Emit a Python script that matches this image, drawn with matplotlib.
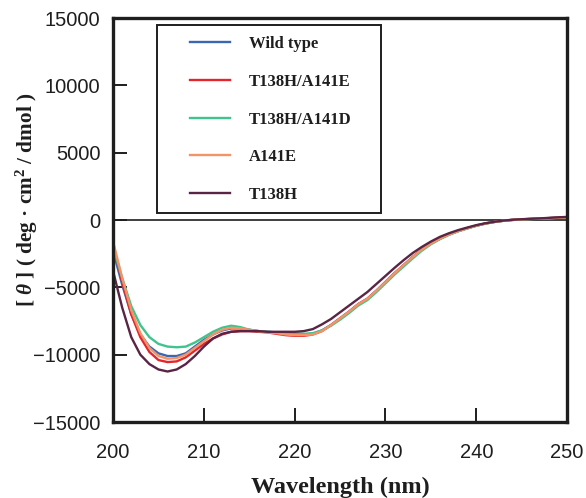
import matplotlib
matplotlib.use("Agg")
import matplotlib.pyplot as plt
import numpy as np
from matplotlib.patches import Rectangle

W = 5.86
H = 4.98
SIZE = (W, H)

BLUE = '#3a68b0'
RED = '#e4262c'
GREEN = '#3ec48c'
ORANGE = '#f39468'
PLUM = '#5a2444'
INK = '#1e1e1e'

wavelength = np.arange(200, 251)

# shared tail 224..250 nm
tail = [-7800, -7300, -6800, -6250, -5850, -5250, -4600, -3950, -3350, -2750,
        -2200, -1750, -1380, -1070, -820, -610, -420, -260, -140, -50,
        10, 50, 80, 110, 140, 170, 190]

wild_type = [-2300, -4800, -7000, -8500, -9400, -9900, -10100, -10100, -9900, -9400,
             -8900, -8500, -8200, -8050, -8050, -8150, -8250, -8300, -8350, -8400,
             -8450, -8500, -8450, -8200] + tail

t138h_a141e = [-1800, -4600, -7000, -8700, -9800, -10400, -10550, -10500, -10200, -9700,
               -9200, -8800, -8500, -8300, -8250, -8250, -8300, -8350, -8450, -8550,
               -8600, -8600, -8500, -8250] + tail

t138h_a141d = [-2000, -4300, -6400, -7800, -8700, -9200, -9400, -9450, -9400, -9100,
               -8700, -8300, -8000, -7850, -7950, -8150, -8250, -8300, -8350, -8400,
               -8400, -8450, -8400, -8200,
               -7850, -7400, -6900, -6350, -5950, -5350, -4700, -4050, -3450, -2850,
               -2280, -1800, -1420, -1100, -840, -630, -430, -270, -150, -60,
               0, 40, 70, 100, 130, 160, 180]

a141e = [-1600, -4300, -6700, -8400, -9500, -10100, -10300, -10250, -10000, -9500,
         -9000, -8500, -8150, -8000, -8050, -8150, -8250, -8350, -8400, -8500,
         -8550, -8550, -8500, -8250] + tail

t138h = [-3800, -6500, -8700, -10000, -10700, -11100, -11250, -11100, -10700, -10100,
         -9400, -8800, -8450, -8300, -8250, -8250, -8250, -8300, -8300, -8300,
         -8300, -8250, -8100, -7750,
         -7350, -6850, -6350, -5850, -5350, -4750, -4150, -3550, -2980, -2450,
         -2000, -1600, -1250, -980, -750, -560, -380, -240, -130, -40,
         20, 60, 90, 120, 160, 200, 230]

series = [
    ('Wild type', wild_type, BLUE),
    ('T138H/A141E', t138h_a141e, RED),
    ('T138H/A141D', t138h_a141d, GREEN),
    ('A141E', a141e, ORANGE),
    ('T138H', t138h, PLUM),
]

plt.rcParams['mathtext.fontset'] = 'custom'
plt.rcParams['mathtext.rm'] = 'Liberation Serif:bold'
plt.rcParams['mathtext.it'] = 'Liberation Serif:italic:bold'
plt.rcParams['mathtext.bf'] = 'Liberation Serif:bold'

fig = plt.figure(figsize=SIZE, dpi=100)
ax = fig.add_axes([0.193, 0.1526, 0.7747, 0.8112])

for label, vals, color in series:
    ax.plot(wavelength, vals, color=color, linewidth=1.7, label=label)

ax.axhline(0, color=INK, linewidth=1.2, zorder=1)

ax.set_xlim(200, 250)
ax.set_ylim(-15000, 15000)
ax.set_xticks(range(200, 251, 10))
ax.set_yticks(range(-15000, 15001, 5000))

for s in ax.spines.values():
    s.set_linewidth(2.4)
    s.set_color(INK)
ax.tick_params(direction='in', length=10, width=1.4, top=False, right=False,
               colors=INK, labelsize=14.5, labelfontfamily='Liberation Sans')
ax.tick_params(axis='y', pad=9)
ax.tick_params(axis='x', pad=15)

ax.set_xlabel('Wavelength (nm)', family='Liberation Serif', weight='bold',
              fontsize=17.5, color=INK, va='top')
ax.xaxis.set_label_coords(0.5, -0.136)
ax.set_ylabel('[ $\\theta$ ] ( deg · cm$^2$ / dmol )', family='Liberation Serif',
              weight='bold', fontsize=15.3, color=INK, va='center')
ax.yaxis.set_label_coords(-0.19, 0.55)

# legend box drawn by hand so its size matches
ax.add_patch(Rectangle((0.097, 0.517), 0.493, 0.466, transform=ax.transAxes,
                       fill=True, facecolor='white', edgecolor=INK,
                       linewidth=1.4, zorder=3))
leg = ax.legend(loc='upper left', bbox_to_anchor=(0.170, 0.955), frameon=False,
                prop={'family': 'Liberation Serif', 'weight': 'bold', 'size': 12},
                handlelength=2.4, handletextpad=1.1, labelspacing=1.30,
                borderpad=0, borderaxespad=0)
leg.set_zorder(4)
for t in leg.get_texts():
    t.set_color(INK)

fig.savefig('out.png', dpi=100)
